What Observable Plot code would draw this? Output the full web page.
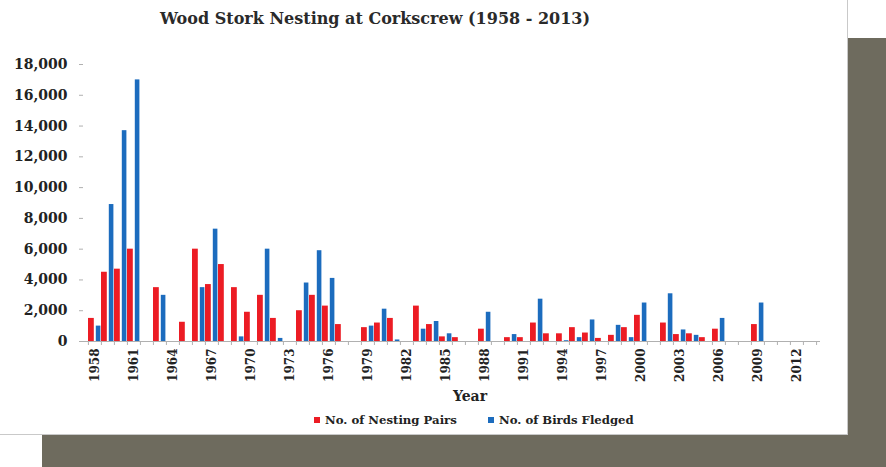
<!DOCTYPE html>
<html>
<head>
<meta charset="utf-8">
<script src="https://cdn.jsdelivr.net/npm/d3@7"></script>
<script src="https://cdn.jsdelivr.net/npm/@observablehq/plot@0.6"></script>
<style>
  html, body { margin: 0; padding: 0; }
  body { width: 886px; height: 467px; position: relative; overflow: hidden; background: #fff; font-family: "DejaVu Serif", serif; }
  #shadow { position: absolute; left: 42px; top: 38px; width: 844px; height: 429px; background: #6e6b5e; }
  #panel { position: absolute; left: 0; top: 0; width: 848px; height: 435px; background: #fff; border-right: 1px solid #c9c9c9; border-bottom: 1px solid #c9c9c9; box-sizing: border-box; }
  #title { position: absolute; left: 0; top: 9px; width: 750px; text-align: center; font-weight: bold; font-size: 16px; color: #2a2a2a; }
  #chart { position: absolute; left: 0; top: 40px; }
  #xlabel { position: absolute; left: 420px; top: 388px; width: 100px; text-align: center; font-weight: bold; font-size: 14px; color: #222; }
  .leg { position: absolute; top: 413px; font-weight: bold; font-size: 11.7px; color: #222; white-space: nowrap; }
  .sw { display: inline-block; width: 6px; height: 6px; margin-right: 5px; vertical-align: 1px; }
</style>
</head>
<body>
<div id="shadow"></div>
<div id="panel"></div>
<div id="title">Wood Stork Nesting at Corkscrew (1958 - 2013)</div>
<div id="chart"></div>
<div id="xlabel">Year</div>
<div class="leg" style="left:314px"><span class="sw" style="background:#ec1c24"></span>No. of Nesting Pairs</div>
<div class="leg" style="left:488px"><span class="sw" style="background:#1c6cbe"></span>No. of Birds Fledged</div>
<script>
const years = [1958,1959,1960,1961,1962,1963,1964,1965,1966,1967,1968,1969,1970,1971,1972,1973,1974,1975,1976,1977,1978,1979,1980,1981,1982,1983,1984,1985,1986,1987,1988,1989,1990,1991,1992,1993,1994,1995,1996,1997,1998,1999,2000,2001,2002,2003,2004,2005,2006,2007,2008,2009,2010,2011,2012,2013];
const nestingPairs = [1500,4500,4700,6000,null,3500,null,1250,6000,3700,5000,3500,1900,3000,1500,null,2000,3000,2300,1100,null,900,1200,1500,null,2300,1100,300,250,null,800,null,250,250,1200,500,500,900,550,200,400,900,1700,null,1200,450,500,250,800,null,null,1100,null,null,null,null];
const birdsFledged = [1000,8900,13700,17000,null,3000,null,null,3500,7300,null,300,null,6000,200,null,3800,5900,4100,null,null,1000,2100,100,null,800,1300,500,null,null,1900,null,450,null,2750,null,50,250,1400,null,1050,250,2500,null,3100,750,400,null,1500,null,null,2500,null,null,null,null];
const labelYears = [1958,1961,1964,1967,1970,1973,1976,1979,1982,1985,1988,1991,1994,1997,2000,2003,2006,2009,2012];
const yTicks = [0,2000,4000,6000,8000,10000,12000,14000,16000,18000];

const rows = years.map((year, i) => ({year, pairs: nestingPairs[i], fledged: birdsFledged[i]}));

const W = 848, ML = 83, MR = 28;
const step = (W - ML - MR) / years.length;
const fmt = d3.format(",");

const chart = Plot.plot({
  width: W,
  height: 370,
  marginTop: 24,
  marginBottom: 69,
  marginLeft: ML,
  marginRight: MR,
  style: {fontFamily: "DejaVu Serif", fontWeight: "bold", background: "transparent", color: "#222"},
  x: {type: "band", domain: years, padding: 0, axis: null},
  y: {domain: [0, 18000], axis: null},
  marks: [
    Plot.barY(rows, {x: "year", y: "pairs", fill: "#ec1c24", insetLeft: 0, insetRight: 7.2}),
    Plot.barY(rows, {x: "year", y: "fledged", fill: "#1c6cbe", insetLeft: 7.8, insetRight: 0.6}),
    Plot.ruleY([0], {stroke: "#b0b0b0", strokeWidth: 1.2}),
    Plot.axisY({ticks: yTicks, tickFormat: fmt, tickSize: 4, tickPadding: 12, line: true, stroke: "#b0b0b0", fontSize: 14, label: null}),
    Plot.axisX({ticks: years, tickSize: 4, tickFormat: () => "", dx: -step / 2, stroke: "#b0b0b0", label: null}),
    Plot.axisX({ticks: [2013], tickSize: 4, tickFormat: () => "", dx: step / 2, stroke: "#b0b0b0", label: null}),
    Plot.axisX({ticks: labelYears, tickSize: 0, tickPadding: 7, tickRotate: -90, tickFormat: d => String(d), fontSize: 12, label: null})
  ]
});
document.getElementById("chart").appendChild(chart);
</script>
</body>
</html>
